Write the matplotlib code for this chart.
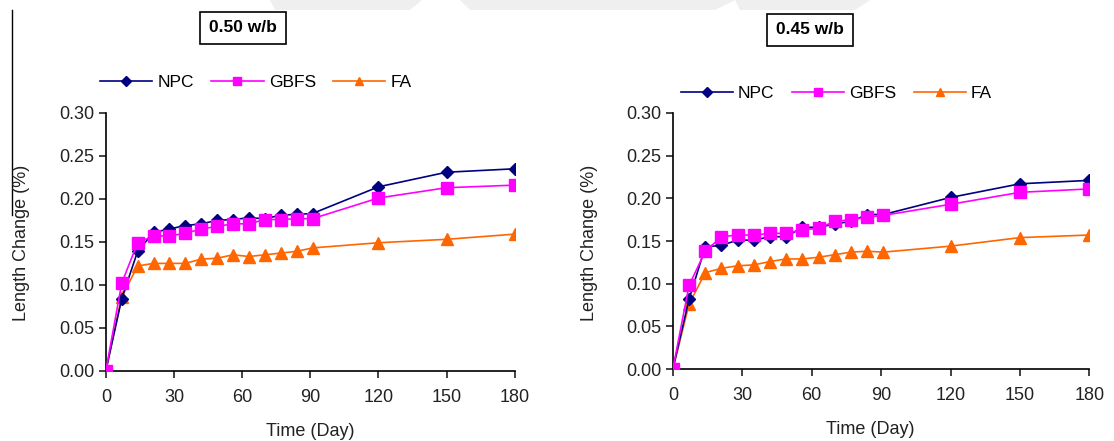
import matplotlib.pyplot as plt
from matplotlib.patches import Polygon
from matplotlib.lines import Line2D

plt.rcParams['font.family'] = ['Liberation Sans', 'DejaVu Sans']

days = [0, 7, 14, 21, 28, 35, 42, 49, 56, 63, 70, 77, 84, 91, 120, 150, 180]

# 0.50 w/b
npc_50 = [0.0, 0.084, 0.139, 0.161, 0.165, 0.169, 0.171, 0.175, 0.176, 0.178, 0.177, 0.181, 0.182, 0.183, 0.214, 0.231, 0.235]
gbfs_50 = [0.0, 0.102, 0.149, 0.157, 0.157, 0.160, 0.165, 0.168, 0.171, 0.171, 0.176, 0.176, 0.177, 0.177, 0.201, 0.213, 0.216]
fa_50 = [0.0, 0.086, 0.122, 0.125, 0.125, 0.125, 0.130, 0.131, 0.135, 0.133, 0.135, 0.137, 0.139, 0.143, 0.149, 0.153, 0.159]

# 0.45 w/b
npc_45 = [0.0, 0.082, 0.143, 0.145, 0.151, 0.151, 0.155, 0.155, 0.166, 0.166, 0.170, 0.173, 0.181, 0.181, 0.201, 0.217, 0.221]
gbfs_45 = [0.0, 0.098, 0.138, 0.155, 0.157, 0.157, 0.159, 0.159, 0.163, 0.165, 0.173, 0.175, 0.178, 0.180, 0.193, 0.207, 0.211]
fa_45 = [0.0, 0.076, 0.113, 0.118, 0.121, 0.122, 0.126, 0.129, 0.129, 0.131, 0.134, 0.137, 0.138, 0.137, 0.144, 0.154, 0.157]

xticks = [0, 30, 60, 90, 120, 150, 180]
yticks = [0.0, 0.05, 0.10, 0.15, 0.20, 0.25, 0.30]

c_npc = '#000080'
c_gbfs = '#ff00ff'
c_fa = '#ff6600'

fig = plt.figure(figsize=(11.14, 4.41), dpi=100)

# faint watermark band at the top
for pts in ([(270, 0), (422, 0), (410, 10), (275, 10)],
            [(460, 0), (735, 0), (715, 10), (470, 10)],
            [(735, 0), (870, 0), (855, 10), (740, 10)]):
    fig.patches.append(Polygon([(x / 1114, 1 - y / 441) for x, y in pts],
                               closed=True, transform=fig.transFigure,
                               facecolor='#efefef', edgecolor='none', zorder=0))
# stray vertical line at the left edge
fig.add_artist(Line2D([12 / 1114, 12 / 1114], [1 - 10 / 441, 1 - 215 / 441],
                      transform=fig.transFigure, color='black', lw=1))

panels = [
    ([0.095, 0.159, 0.367, 0.585], '0.50 w/b', npc_50, gbfs_50, fa_50,
     (243, 28), (0.076, 0.814), (310, 432), 22),
    ([0.604, 0.163, 0.374, 0.581], '0.45 w/b', npc_45, gbfs_45, fa_45,
     (810, 30), (0.597, 0.789), (870, 430), 590),
]

for rect, title, npc, gbfs, fa, tpos, lpos, xlpos, ylx in panels:
    ax = fig.add_axes(rect)
    ax.plot(days, npc, color=c_npc, marker='D', markersize=6, lw=1.2, label='NPC', zorder=3)
    ax.plot(days, gbfs, color=c_gbfs, marker='s', markersize=8, lw=1.2, label='GBFS', zorder=4)
    ax.plot(days, fa, color=c_fa, marker='^', markersize=8, lw=1.2, label='FA', zorder=2)
    ax.set_xlim(0, 180)
    ax.set_ylim(0, 0.30)
    ax.set_xticks(xticks)
    ax.set_yticks(yticks)
    ax.set_yticklabels([f'{v:.2f}' for v in yticks])
    ax.spines['top'].set_visible(False)
    ax.spines['right'].set_visible(False)
    ax.spines['left'].set_linewidth(1.2)
    ax.spines['bottom'].set_linewidth(1.2)
    ax.tick_params(direction='out', length=5, width=1.2, labelsize=13, colors='#222222')
    ax.tick_params(axis='x', pad=8)
    for s in ax.get_xticklabels() + ax.get_yticklabels():
        s.set_clip_on(False)

    fig.text(tpos[0] / 1114, 1 - tpos[1] / 441, title, ha='center', va='center',
             fontsize=12.5, fontweight='bold',
             bbox=dict(boxstyle='square,pad=0.5', facecolor='white', edgecolor='black', lw=1.2))
    fig.text(xlpos[0] / 1114, 1 - xlpos[1] / 441, 'Time (Day)', ha='center', va='center',
             fontsize=13, color='#222222')
    fig.text(ylx / 1114, 0.45, 'Length Change (%)', ha='center', va='center',
             rotation=90, fontsize=13, color='#222222')

    leg_handles = [
        Line2D([], [], color=c_npc, marker='D', markersize=5, lw=1.2),
        Line2D([], [], color=c_gbfs, marker='s', markersize=6, lw=1.2),
        Line2D([], [], color=c_fa, marker='^', markersize=6, lw=1.2),
    ]
    fig.legend(leg_handles, ['NPC', 'GBFS', 'FA'], loc='center left',
               bbox_to_anchor=lpos, ncol=3, frameon=False, fontsize=12.5,
               handlelength=3.0, columnspacing=1.0, handletextpad=0.3)

fig.savefig('out.png', dpi=100)
